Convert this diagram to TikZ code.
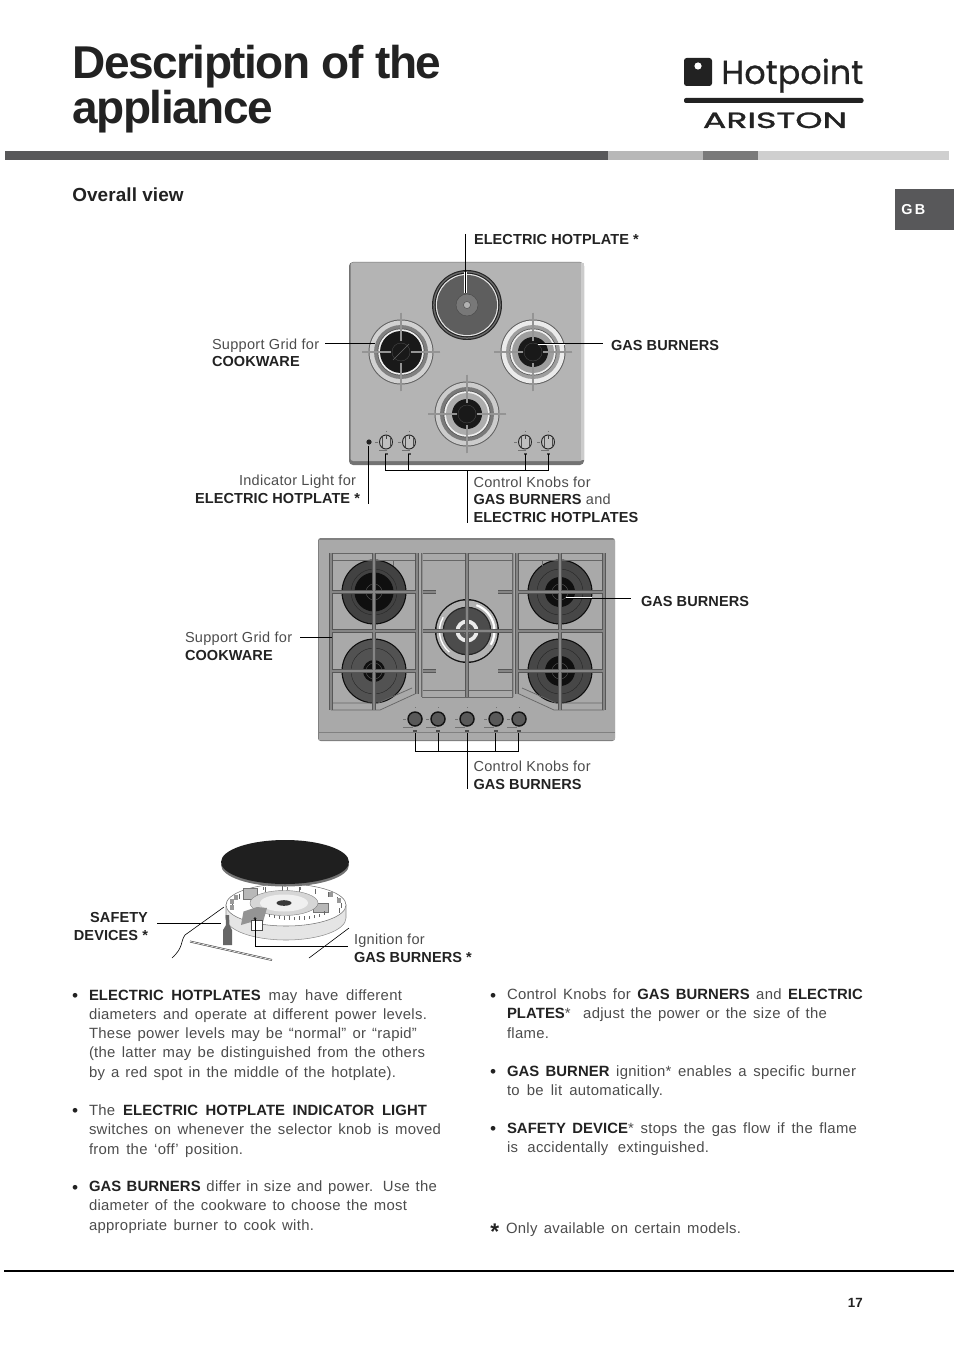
\documentclass[tikz,border=0pt]{standalone}
\usepackage{fontspec}
\setmainfont{Liberation Sans}[LetterSpace=2.0,BoldFeatures={LetterSpace=0.5}]
\newfontfamily\titlefont[LetterSpace=-3.2]{Liberation Sans}
\newfontfamily\logofont[FakeBold=0.6]{Poppins}
\newfontfamily\logoboldfont[FakeBold=1.3]{Poppins}
\newcommand\Ln[2]{\makebox[\dimexpr#1pt*3/4\relax][s]{#2}}
\definecolor{ink}{HTML}{222222}
\definecolor{soft}{HTML}{4C4C4C}
\definecolor{hobA}{HTML}{B4B4B4}
\definecolor{hobB}{HTML}{A9A9A9}
\definecolor{bandD}{HTML}{58585A}
\newcommand\bd[1]{\textcolor{ink}{\textbf{#1}}}
\tikzset{
  lab/.style={anchor=base west,inner sep=0pt,outer sep=0pt,align=left,text=soft,font=\fontsize{10.9}{13.3}\selectfont},
  labr/.style={lab,anchor=base east,align=right},
  body/.style={anchor=base west,inner sep=0pt,outer sep=0pt,align=left,text=soft,font=\fontsize{11.15}{14.35}\selectfont},
  bul/.style={anchor=base west,inner sep=0pt,outer sep=0pt,text=ink,font=\fontsize{13}{14}\selectfont},
  leader/.style={draw=black,line width=0.75pt},
  halo/.style={draw=white,line width=1.7pt},
  thinline/.style={draw=black,line width=0.45pt},
  armo/.style={draw=black!68,line width=2.2pt},
  armi/.style={draw=black!42,line width=0.9pt},
  rail/.style={draw=black!60,line width=0.55pt},
}
\newcommand\arm[4]{\draw[armo] (#1,#2)--(#3,#4);\draw[armi] (#1,#2)--(#3,#4);}
% burner of the first hob: x, y, core radius, colour of the outer band, colour of the light band, colour of the middle band
\newcommand\hobAburner[6]{%
  \fill[black!62] (#1,#2) circle (32.5);
  \fill[#5] (#1,#2) circle (31.5);
  \fill[#4] (#1,#2) circle (27);
  \fill[black!70] (#1,#2) circle (23.5);
  \fill[black!6] (#1,#2) circle (22.8);
  \fill[#6] (#1,#2) circle (21);
  \fill[black!90] (#1,#2) circle (#3);
  \draw[black!72,line width=0.3pt] (#1,#2) circle (9);
  \arm{#1-39}{#2}{#1-10}{#2}
  \arm{#1+39}{#2}{#1+10}{#2}
  \arm{#1}{#2-39}{#1}{#2-11}
  \arm{#1}{#2+39}{#1}{#2+11}
}
\newcommand\hobBburner[4]{%
  \fill[black!95] (#1,#2) circle (32.5);
  \fill[black!#4] (#1,#2) circle (31.3);
  \draw[black!85,line width=0.3pt] (#1,#2) circle (23);
  \fill[black!94] (#1,#2) circle (#3);
  \draw[black!65,line width=0.3pt] (#1,#2) circle (8);
}
\newcommand\knobA[2]{%
  \fill[black!25,draw=black!85,line width=0.7pt] (#1,#2) ellipse (6.5 and 7);
  \draw[black!70,line width=0.35pt] (#1-4,#2-5)--(#1-4,#2+5) (#1+4,#2-5)--(#1+4,#2+5);
  \draw[black!75,line width=0.5pt] (#1,#2-7)--(#1,#2-3);
  \draw[black!55,line width=0.3pt] (#1,#2-11)--(#1,#2-10) (#1-11,#2)--(#1-8.5,#2) (#1-7,#2+8)--(#1+1,#2+8);
  \fill[black!70] (#1-1.5,#2+11) rectangle (#1+1.5,#2+13);
}
\newcommand\knobB[2]{%
  \fill[black!65,draw=black!92,line width=1.1pt] (#1,#2) circle (7);
  \draw[black!55,line width=0.3pt] (#1,#2-12)--(#1,#2-11) (#1-12,#2)--(#1-9.5,#2) (#1-12,#2+8)--(#1-2,#2+8);
  \fill[black!70] (#1-2,#2+11) rectangle (#1+2,#2+13);
}
\begin{document}
\begin{tikzpicture}[x=0.75pt,y=-0.75pt]
\useasboundingbox (0,0) rectangle (954,1351);
% ---------- header
\node[anchor=base west,inner sep=0pt,align=left,text=ink,font=\titlefont\bfseries\fontsize{34.5}{34}\selectfont] (title) at (72,124) {Description of the\\appliance};
\fill[bandD] (5,151) rectangle (608,160);
\fill[black!28] (608,151) rectangle (703,160);
\fill[black!52] (703,151) rectangle (758,160);
\fill[black!19] (758,151) rectangle (949,160);
% logo
\fill[ink,rounded corners=2pt] (684,58) rectangle (712,86);
\fill[white] (698,66) circle (3.6);
\node[anchor=base west,inner sep=0pt,text=ink,font=\logofont\fontsize{25}{25}\selectfont] (hotpoint) at (721,84) {Hotpoint};
\fill[ink,rounded corners=1.5pt] (684,98) rectangle (863.5,103);
\node[anchor=base west,inner sep=0pt,text=ink,font=\logoboldfont\fontsize{16.5}{17}\selectfont,xscale=1.58] (ariston) at (702.5,128) {ARISTON};
% GB tab
\fill[bandD] (895,189) rectangle (954,230);
\node[anchor=base west,inner sep=0pt,text=white,font=\bfseries\fontsize{10.8}{12}\selectfont] (gb) at (901,215) {G\,B};
\node[anchor=base west,inner sep=0pt,text=ink,font=\bfseries\fontsize{14.2}{17}\selectfont] (overall) at (72,202) {Overall view};
% ---------- first hob
\fill[black!55,rounded corners=3pt] (349,262) rectangle (584,465);
\fill[hobA,rounded corners=2pt] (350.5,262.5) rectangle (583,461);
\fill[black!20] (581,263) rectangle (584,460);
\fill[black!85] (467,305) circle (35);
\fill[black!58] (467,305) circle (33.8);
\fill[black!88] (467,305) circle (32.3);
\fill[black!10] (467,305) circle (31.2);
\fill[black!63] (467,305) circle (30);
\fill[black!53,draw=black!72,line width=0.3pt] (467,305) circle (11);
\fill[black!30,draw=black!72,line width=0.3pt] (467,305) circle (3.5);
\hobAburner{401}{352}{20}{black!50}{black!18}{black!90}
\hobAburner{533}{352}{15}{black!38}{black!8}{black!38}
\hobAburner{467}{414}{15}{black!52}{black!20}{black!32}
\draw[black!60,line width=0.3pt] (393,360)--(409,344);
\fill[ink] (369,442) circle (2.6);
\knobA{386}{442}\knobA{409}{442}\knobA{525}{442}\knobA{548}{442}
% leaders, first hob
\node[lab] (lHot) at (474,245) {\bd{ELECTRIC HOTPLATE *}};
\coordinate (cHotTop) at (465.5,234);
\coordinate (cHot) at (465.5,293);
\coordinate (cHotIn) at (465.5,272);
\draw[halo] (cHotIn)--(cHot);
\draw[leader] (cHotTop)--(cHot);
\node[lab] (lGrid) at (212,367) {Support Grid for\\\bd{COOKWARE}};
\coordinate (cGridA) at (325,344);\coordinate (cGridB) at (375,344);
\draw[leader] (cGridA)--(cGridB);
\node[lab] (lGas) at (611,351) {\bd{GAS BURNERS}};
\coordinate (cGasA) at (538,344);\coordinate (cGasB) at (603,344);\coordinate (cGasIn) at (565,344);
\draw[halo] (cGasA)--(cGasIn);
\draw[leader] (cGasA)--(cGasB);
\node[labr] (lInd) at (360,503.5) {Indicator Light for\kern3pt\\\bd{ELECTRIC HOTPLATE *}};
\coordinate (cIndA) at (368.5,446);\coordinate (cIndB) at (368.5,504);
\draw[leader] (cIndA)--(cIndB);
\node[lab] (lKnobs) at (473.5,522.5) {Control Knobs for\\\bd{GAS BURNERS} and\\\bd{ELECTRIC HOTPLATES}};
\coordinate (k1) at (385.7,454);\coordinate (k2) at (408.7,454);\coordinate (k3) at (525,454);\coordinate (k4) at (548,454);
\coordinate (kS) at (467.5,470);\coordinate (kE) at (467.5,523);
\draw[leader] (k1)--(k1|-kS)--(k4|-kS)--(k4);
\draw[leader] (k2)--(k2|-kS) (k3)--(k3|-kS) (kS)--(kE);
% ---------- second hob
\fill[black!50,rounded corners=2pt] (318,538) rectangle (615,741);
\fill[hobB] (319,540) rectangle (614.5,740);
\draw[black!50,line width=0.5pt] (319,732)--(615,732);
\hobBburner{374}{592}{19.5}{74}
\hobBburner{374}{671}{11}{68}
\hobBburner{560}{592}{15}{72}
\hobBburner{560}{671}{15}{72}
% centre burner
\fill[black!92] (467,631) circle (32);
\fill[black!30] (467,631) circle (30.6);
\draw[white,line width=1.6pt] (467,631) ++(-70:27.5) arc[start angle=-70,end angle=30,radius=27.5];
\draw[white,line width=1pt] (467,631) ++(130:27.5) arc[start angle=130,end angle=210,radius=27.5];
\fill[black!85] (467,631) circle (24.3);
\fill[black!70] (467,631) circle (23);
\fill[black!8] (467,631) circle (11.5);
\fill[black!65] (467,631) circle (7.5);
\fill[black!35] (467,631) circle (3.5);
% pan supports: thin double rails
\draw[rail] (331,553)--(417,553) (331,560)--(417,560) (393,560)--(393,566);
\draw[rail] (422,553)--(513,553) (422,560)--(513,560);
\draw[rail] (517,553)--(604,553) (517,560)--(604,560) (542,560)--(542,566);
\draw[rail] (331,710)--(380,710)--(417,693) (331,703)--(378,703)--(412,688);
\draw[rail] (422,697)--(513,697) (422,690)--(513,690);
\draw[rail] (604,710)--(554,710)--(517,693) (604,703)--(556,703)--(522,688);
% pan supports: bars
\foreach \w/\c in {2.9pt/black!66,0.8pt/black!48}{
  \draw[line width=\w,draw=\c] (331,553)--(331,710) (417,553)--(417,694) (517,553)--(517,694) (604,553)--(604,710);
  \draw[line width=\w,draw=\c] (374,553)--(374,710) (467,553)--(467,697) (560,553)--(560,710);
  \draw[line width=\w,draw=\c] (331,592)--(417,592) (331,631)--(417,631) (331,671)--(417,671);
  \draw[line width=\w,draw=\c] (517,592)--(604,592) (517,631)--(604,631) (517,671)--(604,671);
  \draw[line width=\w,draw=\c] (422,631)--(513,631);
  \draw[line width=\w,draw=\c] (422,592)--(436,592) (498,592)--(513,592) (422,671)--(436,671) (498,671)--(513,671);
}
\foreach \w/\c in {2pt/black!60,0.6pt/black!44}{
  \draw[line width=\w,draw=\c] (422,553)--(422,697) (513,553)--(513,697);
}
\knobB{415}{719}\knobB{438}{719}\knobB{467}{719}\knobB{496}{719}\knobB{519}{719}
% leaders, second hob
\node[lab] (lGas2) at (641,606) {\bd{GAS BURNERS}};
\coordinate (c2A) at (566,598);\coordinate (c2B) at (631,598);\coordinate (c2In) at (592,598);
\draw[halo] (c2A)--(c2In);
\draw[leader] (c2A)--(c2B);
\node[lab] (lGrid2) at (185,660) {Support Grid for\\\bd{COOKWARE}};
\coordinate (g2A) at (300,637);\coordinate (g2B) at (332,637);
\draw[leader] (g2A)--(g2B);
\node[lab] (lKnobs2) at (473.5,789) {Control Knobs for\\\bd{GAS BURNERS}};
\coordinate (m1) at (415.5,733);\coordinate (m2) at (438.5,733);\coordinate (m4) at (495.5,733);\coordinate (m5) at (518.5,733);
\coordinate (mS) at (467,751.5);\coordinate (mT) at (467,733);\coordinate (mE) at (467,789);
\draw[leader] (m1)--(m1|-mS)--(m5|-mS)--(m5);
\draw[leader] (m2)--(m2|-mS) (m4)--(m4|-mS) (mT)--(mE);
% ---------- burner detail
\fill[black!10,draw=black!45,line width=0.4pt] (226,905) -- (226,918) arc[start angle=180,end angle=0,x radius=60,y radius=22] -- (346,905) arc[start angle=0,end angle=-180,x radius=60,y radius=20] -- cycle;
\fill[white,draw=black!55,line width=0.4pt] (286,905) ellipse (60 and 21);
% teeth round the back of the rim
\foreach \a in {-14,4,...,194}{\draw[black!60,line width=0.45pt] ({286+55*cos(\a)},{904-18*sin(\a)}) -- ++(0,5);}
\foreach \a in {15,35,155,170,190}{\fill[black!40] ({286+55*cos(\a)-2},{904-17*sin(\a)-2}) rectangle ++(4,5);}
\fill[black!28,draw=black!55,line width=0.3pt] (243,888) rectangle (257,899);
\fill[black!28,draw=black!55,line width=0.3pt] (313,903) rectangle (328,912);
% flame spreader
\fill[black!16,draw=black!50,line width=0.3pt] (284,903) ellipse (34 and 12.5);
\fill[black!6] (284,903) ellipse (24 and 8.5);
\fill[black!78] (284,903) ellipse (7.5 and 2.8);
% front teeth
\foreach \xx in {264,269,...,324}{\draw[black!60,line width=0.45pt] (\xx,{912+8*sqrt(max(0,1-((\xx-294)/32)^2))}) -- ++(0,-3.5);}
\fill[black!42] (241,925)--(243.5,911.5)--(257,907)--(267,908)--(263,922)--(251,922)--cycle;
\fill[white,draw=black!70,line width=0.4pt] (251,920) rectangle (262,930);
\fill[ink] (255,918.5) circle (1.5);
\fill[black!60] (225.5,915) -- (226,925) -- (223,930) -- (223,945) -- (232,945) -- (232,930) -- (229.5,925) -- (229,915) -- cycle;
% plate
\fill[black!55] (285,865) ellipse (64 and 21.5);
\fill[black!88] (285,862) ellipse (64 and 22);
\foreach \xx in {263,287,300}{\draw[black!55,line width=0.6pt] (\xx,887)--(\xx,890);}
\draw[thinline] (224,907)--(185,935) .. controls (180,942) and (184,947) .. (172,958);
\coordinate (wireA) at (190,941.5);\coordinate (wireB) at (272,960);
\draw[black!70,line width=1.4pt] (wireA)--(wireB);\draw[white,line width=0.45pt] (wireA)--(wireB);
\draw[thinline] (349,928)--(309,958);
\node[labr] (lSafe) at (148,940) {\bd{SAFETY}\\\bd{DEVICES *}};
\coordinate (sA) at (157,923);\coordinate (sB) at (221,923);
\draw[leader] (sA)--(sB);
\node[lab] (lIgn) at (354,962) {Ignition for\\\bd{GAS BURNERS *}};
\coordinate (iA) at (255,919);\coordinate (iB) at (348,946);
\draw[leader] (iA)--(iA|-iB)--(iB);
% ---------- text columns
\node[bul] (b1) at (72,1001) {•};
\node[body] (t1) at (89,1077) {\Ln{313}{\bd{ELECTRIC HOTPLATES} may have different}\\\Ln{338}{diameters and operate at different power levels.}\\\Ln{328}{These power levels may be “normal” or “rapid”}\\\Ln{336}{(the latter may be distinguished from the others}\\\Ln{307}{by a red spot in the middle of the hotplate).}};
\node[bul] (b2) at (72,1116) {•};
\node[body] (t2) at (89,1154) {\Ln{338}{The \bd{ELECTRIC HOTPLATE INDICATOR LIGHT}}\\\Ln{352}{switches on whenever the selector knob is moved}\\\Ln{154}{from the ‘off’ position.}};
\node[bul] (b3) at (72,1193) {•};
\node[body] (t3) at (89,1230) {\Ln{348}{\bd{GAS BURNERS} differ in size and power. Use the}\\\Ln{318}{diameter of the cookware to choose the most}\\\Ln{225}{appropriate burner to cook with.}};
\node[bul] (b4) at (490,1001) {•};
\node[body] (t4) at (507,1038) {\Ln{356}{Control Knobs for \bd{GAS BURNERS} and \bd{ELECTRIC}}\\\Ln{320}{\bd{PLATES}*\ \ adjust the power or the size of the}\\\Ln{44}{flame.}};
\node[bul] (b5) at (490,1077) {•};
\node[body] (t5) at (507,1095.5) {\Ln{349}{\bd{GAS BURNER} ignition* enables a specific burner}\\\Ln{156}{to be lit automatically.}};
\node[bul] (b6) at (490,1134) {•};
\node[body] (t6) at (507,1152.5) {\Ln{350}{\bd{SAFETY DEVICE}* stops the gas flow if the flame}\\\Ln{202}{is accidentally extinguished.}};
\node[anchor=base west,inner sep=0pt,text=ink,font=\bfseries\fontsize{17}{18}\selectfont] (star) at (490,1239) {*};
\node[body] (t7) at (506,1233) {\Ln{235}{Only available on certain models.}};
% ---------- footer
\coordinate (fA) at (4,1271);\coordinate (fB) at (954,1271);
\draw[black,line width=0.9pt] (fA)--(fB);
\node[anchor=base east,inner sep=0pt,text=ink,font=\bfseries\fontsize{10}{12}\selectfont] (page) at (863,1307) {17};
\end{tikzpicture}
\end{document}
